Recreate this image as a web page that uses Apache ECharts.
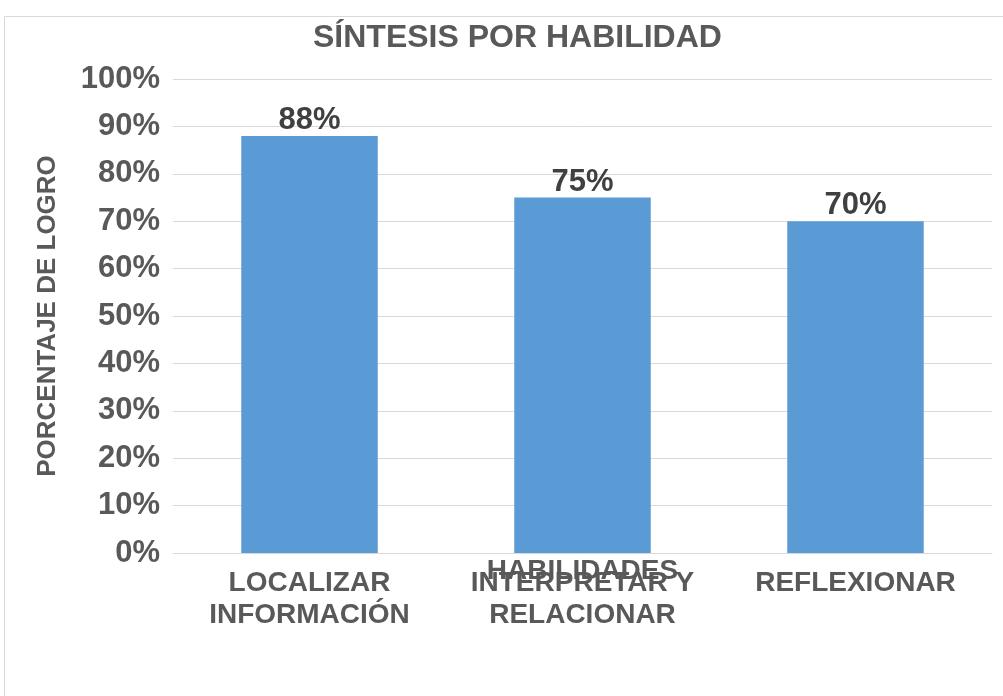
<!DOCTYPE html>
<html>
<head>
<meta charset="utf-8">
<script src="https://cdn.jsdelivr.net/npm/echarts@6/dist/echarts.min.js"></script>
<style>
  html, body { margin: 0; padding: 0; background: #ffffff; }
  #chart { width: 1003px; height: 696px; }
</style>
</head>
<body>
<div id="chart"></div>
<script>
// Logro por habilidad
const categories = ['LOCALIZAR\nINFORMACIÓN', 'INTERPRETAR Y\nRELACIONAR', 'REFLEXIONAR'];
const values = [88, 75, 70];
const titleText = 'SÍNTESIS POR HABILIDAD';
const yAxisTitle = 'PORCENTAJE DE LOGRO';
const xAxisTitle = 'HABILIDADES';

const textColor = '#595959';
const fontFamily = '"Liberation Sans", Arial, sans-serif';
const chartWidth = 1003;

const chart = echarts.init(document.getElementById('chart'), null, { renderer: 'canvas' });

const gridBox = { left: 173, right: 11, top: 79, bottom: 143 };

chart.setOption({
  backgroundColor: '#ffffff',
  animation: false,
  graphic: [{
    type: 'rect',
    shape: { x: 4.5, y: 16.5, width: 1100, height: 800 },
    style: { fill: 'none', stroke: '#d9d9d9', lineWidth: 1 },
    silent: true
  }, {
    // horizontal axis title, centred on the plot just under the axis line
    type: 'text',
    x: gridBox.left + (chartWidth - gridBox.left - gridBox.right) / 2,
    y: 557,
    style: {
      text: xAxisTitle,
      fill: textColor,
      align: 'center',
      verticalAlign: 'top',
      font: 'bold 28px "Liberation Sans", Arial, sans-serif'
    },
    silent: true
  }],
  title: {
    text: titleText,
    left: 308,
    top: 17,
    textStyle: { color: textColor, fontFamily, fontWeight: 'bold', fontSize: 32 }
  },
  grid: gridBox,
  xAxis: {
    type: 'category',
    data: categories,
    axisLine: { show: true, lineStyle: { color: '#d9d9d9', width: 1 } },
    axisTick: { show: false },
    axisLabel: {
      color: textColor, fontFamily, fontWeight: 'bold', fontSize: 28,
      lineHeight: 32, margin: 14, interval: 0
    }
  },
  yAxis: {
    type: 'value',
    min: 0, max: 100, interval: 10,
    name: yAxisTitle,
    nameLocation: 'middle',
    nameGap: 112,
    nameTextStyle: { color: textColor, fontFamily, fontWeight: 'bold', fontSize: 26 },
    axisLine: { show: false },
    axisTick: { show: false },
    axisLabel: {
      formatter: '{value}%',
      color: textColor, fontFamily, fontWeight: 'bold', fontSize: 31, margin: 13
    },
    splitLine: { lineStyle: { color: '#d9d9d9', width: 1 } }
  },
  series: [{
    type: 'bar',
    data: values,
    barWidth: '50%',
    itemStyle: { color: '#5b9bd5' },
    label: {
      show: true,
      position: 'top',
      distance: 0,
      formatter: '{c}%',
      color: '#404040', fontFamily, fontWeight: 'bold', fontSize: 31
    }
  }]
});
</script>
</body>
</html>
